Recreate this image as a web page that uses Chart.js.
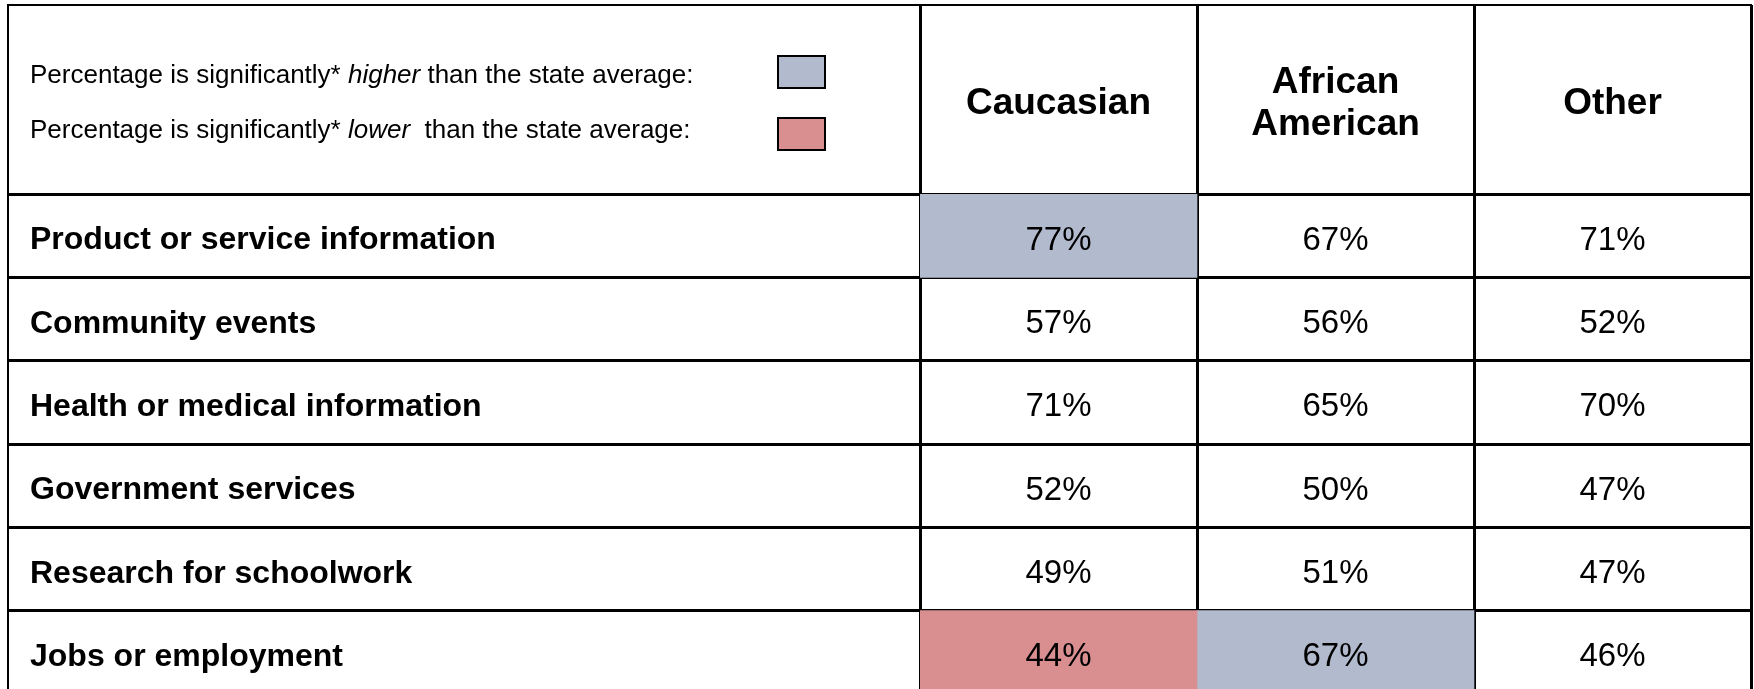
<!DOCTYPE html>
<html>
<head>
<meta charset="utf-8">
<script src="https://cdn.jsdelivr.net/npm/chart.js@4.4.1/dist/chart.umd.min.js"></script>
<style>
  html, body { margin: 0; padding: 0; background: #fff; overflow: hidden; }
  canvas { display: block; }
</style>
</head>
<body>
<canvas id="table" width="1754" height="700"></canvas>
<script>
// строки таблицы
const topics = [
  "Product or service information",
  "Community events",
  "Health or medical information",
  "Government services",
  "Research for schoolwork",
  "Jobs or employment",
];

// заголовки столбцов
const groups = ["Caucasian", ["African", "American"], "Other"];

// проценты по столбцам
const caucasian = [77, 57, 71, 52, 49, 44];
const africanAmerican = [67, 56, 65, 50, 51, 67];
const other = [71, 52, 70, 47, 47, 46];

// отличие от среднего по штату: "hi" выше, "lo" ниже
const caucasianSig = ["hi", "", "", "", "", "lo"];
const africanAmericanSig = ["", "", "", "", "", "hi"];
const otherSig = ["", "", "", "", "", ""];

const legendLines = [
  ["Percentage is significantly* ", "higher", " than the state average:"],
  ["Percentage is significantly* ", "lower", "  than the state average:"],
];

const FONT = "'Liberation Sans', Arial, sans-serif";
const sigColor = { hi: "#b2bace", lo: "#d98e90", "": "rgba(0,0,0,0)" };

const columns = [caucasian, africanAmerican, other];
const sigs = [caucasianSig, africanAmericanSig, otherSig];

// подписи процентов в ячейках
const cellText = {
  id: "cellText",
  afterDraw(chart) {
    const ctx = chart.ctx;
    ctx.save();
    ctx.font = `33px ${FONT}`;
    ctx.fillStyle = "#000";
    ctx.textAlign = "center";
    ctx.textBaseline = "middle";
    chart.data.datasets.forEach((ds, i) => {
      chart.getDatasetMeta(i).data.forEach((bar, j) => {
        const { x, base, y } = bar.getProps(["x", "base", "y"], true);
        ctx.fillText(ds.percents[j] + "%", (x + base) / 2, y + 5);
      });
    });
    ctx.restore();
  },
};

// рамка и легенда в шапке
const frameAndKey = {
  id: "frameAndKey",
  afterDraw(chart) {
    const { ctx, chartArea, scales } = chart;
    const head = scales.head;
    const y = scales.y;
    const left = y.right - y.options.grid.tickLength;
    ctx.save();
    ctx.strokeStyle = "#000";
    ctx.lineWidth = 2;
    ctx.beginPath();
    ctx.moveTo(left, chartArea.bottom);
    ctx.lineTo(left, head.top);
    ctx.lineTo(chartArea.right + 1, head.top);
    ctx.stroke();

    const keyColors = [sigColor.hi, sigColor.lo];
    const textY = [head.top + 71, head.top + 126];
    const boxY = [head.top + 51, head.top + 113];
    ctx.textBaseline = "middle";
    legendLines.forEach((parts, i) => {
      let x = y.left;
      parts.forEach((p, k) => {
        ctx.font = `${k === 1 ? "italic " : ""}26px ${FONT}`;
        ctx.fillStyle = "#000";
        ctx.fillText(p, x, textY[i]);
        x += ctx.measureText(p).width;
      });
      ctx.fillStyle = keyColors[i];
      ctx.fillRect(778, boxY[i], 47, 32);
      ctx.lineWidth = 2;
      ctx.strokeRect(778, boxY[i], 47, 32);
    });
    ctx.restore();
  },
};

new Chart(document.getElementById("table").getContext("2d"), {
  type: "bar",
  data: {
    labels: topics,
    datasets: columns.map((values, col) => ({
      label: String(groups[col]),
      data: values.map(() => [col, col + 1]),
      percents: values,
      backgroundColor: sigs[col].map((s) => sigColor[s]),
      grouped: false,
      barPercentage: 1,
      categoryPercentage: 1,
      borderWidth: 0,
    })),
  },
  options: {
    indexAxis: "y",
    responsive: false,
    animation: false,
    layout: { padding: { left: 30, top: 5, right: 3, bottom: 6 } },
    plugins: { legend: { display: false }, tooltip: { enabled: false } },
    scales: {
      x: { type: "linear", min: 0, max: 3, display: false },
      head: {
        type: "category",
        labels: groups,
        position: "top",
        offset: true,
        z: 1,
        grid: { offset: true, color: "#000", lineWidth: 3, tickLength: 189 },
        border: { display: false },
        ticks: {
          crossAlign: "center",
          maxRotation: 0,
          autoSkip: false,
          padding: -120,
          color: "#000",
          font: { family: FONT, size: 37, weight: "bold", lineHeight: 1.15 },
        },
        afterFit(scale) {
          scale.height = 189;
          scale.paddingLeft = 0;
          scale.paddingRight = 0;
        },
      },
      y: {
        type: "category",
        position: "left",
        offset: true,
        z: 1,
        grid: { offset: true, color: "#000", lineWidth: 3, tickLength: 912 },
        border: { display: false },
        ticks: {
          crossAlign: "far",
          autoSkip: false,
          labelOffset: 5,
          color: "#000",
          font: { family: FONT, size: 32, weight: "bold" },
        },
        afterFit(scale) {
          scale.width = 890;
          scale.paddingTop = 0;
          scale.paddingBottom = 0;
        },
      },
    },
  },
  plugins: [cellText, frameAndKey],
});
</script>
</body>
</html>
